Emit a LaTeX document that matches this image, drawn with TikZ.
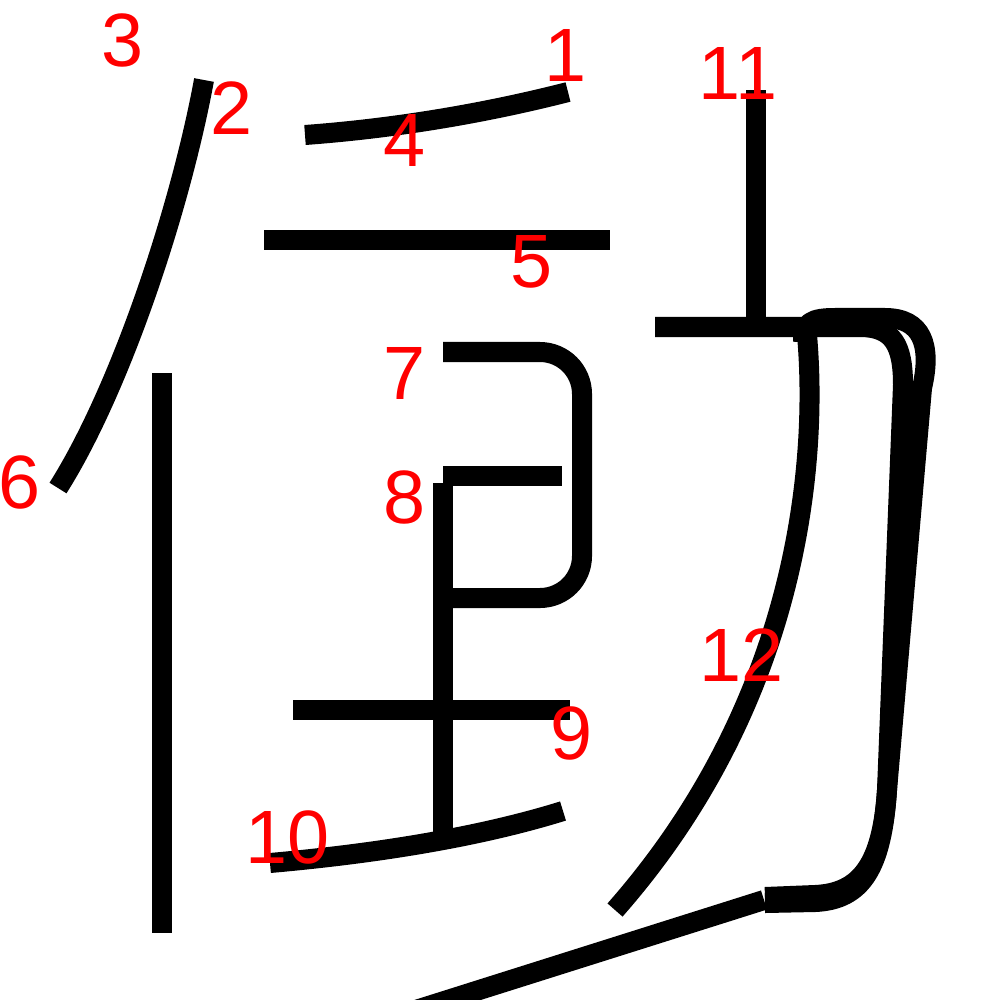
\documentclass[tikz,border=0pt]{standalone}
\usepackage{fontspec}
\setmainfont{Liberation Sans}
\begin{document}
\begin{tikzpicture}[x=0.01cm,y=-0.01cm,
  stroke/.style={line width=0.2cm, line cap=butt, line join=round},
  lbl/.style={text=red, font=\fontsize{21.5pt}{24pt}\selectfont, inner sep=0pt}]
\useasboundingbox (0,0) rectangle (1000,1000);
% strokes
\draw[stroke] (305,135) .. controls (400,128) and (490,112) .. (568,92);
\draw[stroke] (204,80) .. controls (180,210) and (120,390) .. (58,488);
\draw[stroke] (264,240) -- (610,240);
\draw[stroke] (162,373) -- (162,933);
\draw[stroke, rounded corners=0.42cm] (443,352) -- (582,352) -- (582,598) -- (443,598);
\draw[stroke] (443,476) -- (562,476);
\draw[stroke] (442.5,483) -- (442.5,833);
\draw[stroke] (293,710) -- (570,710);
\draw[stroke] (270,863) .. controls (360,855) and (470,840) .. (563,811);
\draw[stroke] (756,90) -- (756,327);
\draw[stroke] (807,335) .. controls (818,460) and (800,700) .. (615,910);
\draw[stroke] (400,1015) -- (764,900);
% outer hook
\draw[stroke] (803,342) .. controls (803,322) and (812,318) .. (835,318) -- (885,318)
  .. controls (922,318) and (932,345) .. (922,388) -- (887,790)
  .. controls (882,868) and (862,900) .. (815,902) -- (765,903);
% inner hook
\draw[stroke] (655,327) -- (860,327) .. controls (893,327) and (903,345) .. (903,385)
  -- (887,790) .. controls (882,865) and (860,893) .. (815,895) -- (765,897);
% labels
\node[lbl] (l1) at (566,55) {1};
\node[lbl] (l2) at (232,108) {2};
\node[lbl] (l3) at (123,40) {3};
\node[lbl] (l4) at (405,140) {4};
\node[lbl] (l5) at (532,262) {5};
\node[lbl] (l6) at (20,482) {6};
\node[lbl] (l7) at (405,373) {7};
\node[lbl] (l8) at (405,497) {8};
\node[lbl] (l9) at (572,733) {9};
\node[lbl] (l10) at (288,837) {10};
\node[lbl] (l11) at (738,73) {11};
\node[lbl] (l12) at (742,655) {12};
\end{tikzpicture}
\end{document}
